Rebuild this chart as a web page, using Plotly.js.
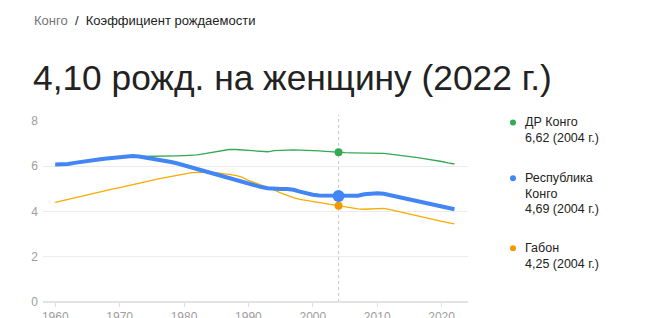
<!DOCTYPE html>
<html><head><meta charset="utf-8">
<script src="https://cdn.plot.ly/plotly-3.0.1.min.js"></script>
<style>html,body{margin:0;padding:0;background:#fff;}#chart{width:650px;height:318px;}</style>
</head><body><div id="chart"></div>
<script>
const years = [];
for (let y = 1960; y <= 2022; y++) years.push(y);

const drCongo = [6.05,6.06,6.09,6.14,6.19,6.23,6.27,6.30,6.33,6.36,6.39,6.42,6.43,6.43,6.43,6.43,6.44,6.44,6.45,6.46,
  6.47,6.48,6.50,6.55,6.60,6.66,6.71,6.74,6.74,6.72,6.69,6.67,6.65,6.64,6.69,6.71,6.72,6.72,6.71,6.71,
  6.70,6.68,6.66,6.63,6.62,6.60,6.59,6.59,6.59,6.59,6.59,6.57,6.54,6.51,6.47,6.43,6.39,6.35,6.31,6.26,
  6.21,6.15,6.10];
const repCongo = [6.08,6.08,6.10,6.15,6.20,6.24,6.28,6.31,6.34,6.37,6.40,6.43,6.45,6.43,6.39,6.34,6.30,6.25,6.19,6.12,
  6.04,5.96,5.88,5.78,5.69,5.61,5.52,5.44,5.36,5.29,5.22,5.15,5.08,5.03,5.00,4.99,4.99,4.96,4.88,4.80,
  4.74,4.71,4.71,4.70,4.69,4.68,4.67,4.70,4.76,4.80,4.81,4.78,4.72,4.66,4.60,4.53,4.47,4.41,4.35,4.29,
  4.22,4.16,4.10];
const gabon = [4.40,4.47,4.54,4.60,4.66,4.73,4.80,4.87,4.94,5.00,5.06,5.13,5.20,5.26,5.32,5.38,5.44,5.50,5.56,5.62,
  5.67,5.71,5.73,5.74,5.74,5.72,5.68,5.64,5.60,5.52,5.38,5.28,5.18,5.07,4.95,4.82,4.70,4.61,4.54,4.49,
  4.44,4.40,4.37,4.31,4.25,4.20,4.15,4.12,4.10,4.12,4.14,4.14,4.08,4.02,3.96,3.89,3.83,3.76,3.70,3.63,
  3.56,3.50,3.45];
const seriesNames = ["ДР Конго", ["Республика", "Конго"], "Габон"];
const highlightYear = 2004;
const xTickVals = [1960,1970,1980,1990,2000,2010,2020];
const yTickVals = [0,2,4,6,8];
const breadcrumbCountry = "Конго";
const breadcrumbTopic = "Коэффициент рождаемости";
const headline = "4,10 рожд. на женщину (2022 г.)";

const colors = {green:"#34a853", blue:"#4285f4", orange:"#f9ab00", orangeDot:"#f29900"};
const hi = years.indexOf(highlightYear);
const fmt = v => v.toFixed(2).replace(".", ",");

const traces = [
  {x: years, y: drCongo, mode: "lines", line: {color: colors.green, width: 1.3}, hoverinfo: "skip"},
  {x: years, y: gabon, mode: "lines", line: {color: colors.orange, width: 1.3}, hoverinfo: "skip"},
  {x: years, y: repCongo, mode: "lines", line: {color: colors.blue, width: 4}, hoverinfo: "skip"},
  {x: [years[hi]], y: [drCongo[hi]], mode: "markers", marker: {color: colors.green, size: 8}},
  {x: [years[hi]], y: [gabon[hi]], mode: "markers", marker: {color: colors.orangeDot, size: 8}},
  {x: [years[hi]], y: [repCongo[hi]], mode: "markers", marker: {color: colors.blue, size: 12}}
];

const L = 43, R = 182, T = 121, B = 15.5;
const W = 650 - L - R, H = 318 - T - B;
const px = x => (x - L) / W;
const py = y => (318 - B - y) / H;

const ann = [];
function txt(text, x, y, size, color, xanchor) {
  ann.push({text: text, xref: "paper", yref: "paper", x: px(x), y: py(y), xanchor: xanchor || "left",
    yanchor: "middle", showarrow: false, font: {size: size, color: color, family: "Arial, Liberation Sans, sans-serif"}});
}
txt('<span style="color:#70757a">' + breadcrumbCountry + '</span>&nbsp; /&nbsp; ' + breadcrumbTopic, 32, 20, 13, "#222");
txt(headline, 31, 77, 35.3, "#222");

const legendRows = [
  {dotY: 122.5, color: colors.green, lines: [seriesNames[0], fmt(drCongo[hi]) + " (" + highlightYear + " г.)"]},
  {dotY: 178.5, color: colors.blue, lines: seriesNames[1].concat([fmt(repCongo[hi]) + " (" + highlightYear + " г.)"])},
  {dotY: 248.5, color: colors.orangeDot, lines: [seriesNames[2], fmt(gabon[hi]) + " (" + highlightYear + " г.)"]}
];
const shapes = [
  {type: "line", xref: "x", yref: "paper", x0: highlightYear, x1: highlightYear, y0: 0, y1: py(115),
   line: {color: "#c8c8c8", width: 1, dash: "dot"}, layer: "below"}
];
legendRows.forEach(r => {
  shapes.push({type: "circle", xref: "paper", yref: "paper", xsizemode: "pixel", ysizemode: "pixel",
    xanchor: px(513), yanchor: py(r.dotY), x0: -3, x1: 3, y0: -3, y1: 3,
    fillcolor: r.color, line: {width: 0}});
  r.lines.forEach((t, i) => txt(t, 523, r.dotY + i * 15.5, 12.5, "#222"));
});

const layout = {
  width: 650, height: 318,
  margin: {l: L, r: R, t: T, b: B, pad: 0},
  paper_bgcolor: "#fff", plot_bgcolor: "#fff",
  showlegend: false,
  xaxis: {range: [1958.1, 2024.1], tickvals: xTickVals, showgrid: false, zeroline: false,
    showline: false, ticks: "outside", ticklen: 4, tickcolor: "#e0e0e0",
    tickfont: {size: 12, color: "#9e9e9e", family: "Arial, Liberation Sans, sans-serif"}, fixedrange: true},
  yaxis: {range: [0, 8], tickvals: yTickVals, showgrid: true, gridcolor: "#ececec", gridwidth: 1,
    zeroline: true, zerolinecolor: "#e3e3e3", zerolinewidth: 1.5, showline: false, ticks: "", ticklabelstandoff: 4,
    tickfont: {size: 12, color: "#9e9e9e", family: "Arial, Liberation Sans, sans-serif"}, fixedrange: true},
  annotations: ann,
  shapes: shapes
};
Plotly.newPlot("chart", traces, layout, {staticPlot: true, displayModeBar: false});
</script></body></html>
